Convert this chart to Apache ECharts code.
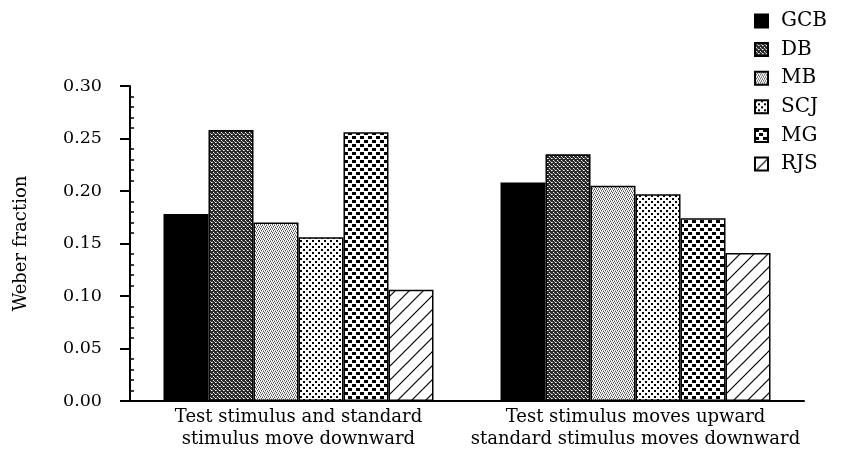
<!DOCTYPE html>
<html>
<head>
<meta charset="utf-8">
<script src="https://cdn.jsdelivr.net/npm/echarts@6/dist/echarts.min.js"></script>
<style>
  html, body { margin: 0; padding: 0; background: #fff; }
  #chart { width: 866px; height: 457px; }
</style>
</head>
<body>
<div id="chart"></div>
<script>
// data
const categories = [
  'Test stimulus and standard\nstimulus move downward',
  'Test stimulus moves upward\nstandard stimulus moves downward'
];
const subjects = ['GCB', 'DB', 'MB', 'SCJ', 'MG', 'RJS'];
const gcb = [0.178, 0.208];
const db  = [0.258, 0.235];
const mb  = [0.170, 0.205];
const scj = [0.156, 0.197];
const mg  = [0.256, 0.174];
const rjs = [0.106, 0.141];
const values = [gcb, db, mb, scj, mg, rjs];

const FONT = 'DejaVu Serif';

// little canvas tiles for the print-style fills
function tile(w, h, draw) {
  const c = document.createElement('canvas');
  c.width = w; c.height = h;
  const ctx = c.getContext('2d');
  ctx.fillStyle = '#fff';
  ctx.fillRect(0, 0, w, h);
  ctx.fillStyle = '#000';
  ctx.strokeStyle = '#000';
  draw(ctx);
  return { image: c, repeat: 'repeat' };
}

const fills = [
  '#000',
  // DB: dense dark stipple
  tile(4, 4, ctx => {
    ctx.fillStyle = '#2a2a2a';
    ctx.fillRect(0, 0, 4, 4);
    ctx.fillStyle = '#fff';
    ctx.fillRect(1, 0, 1, 1); ctx.fillRect(3, 2, 1, 1);
    ctx.fillStyle = '#aaa';
    ctx.fillRect(0, 2, 1, 1); ctx.fillRect(2, 1, 1, 1);
  }),
  // MB: lighter stipple
  tile(4, 4, ctx => {
    ctx.fillStyle = '#555';
    ctx.fillRect(0, 0, 1, 1); ctx.fillRect(2, 1, 1, 1);
    ctx.fillRect(1, 2, 1, 1); ctx.fillRect(3, 3, 1, 1);
    ctx.fillStyle = '#aaa';
    ctx.fillRect(2, 0, 1, 1); ctx.fillRect(0, 1, 1, 1);
    ctx.fillRect(3, 2, 1, 1); ctx.fillRect(1, 3, 1, 1);
  }),
  // SCJ: small dots on offset grid
  tile(6, 6, ctx => {
    ctx.fillRect(0, 0, 2, 2);
    ctx.fillRect(3, 3, 2, 2);
  }),
  // MG: bigger blocks on offset grid
  tile(8, 8, ctx => {
    ctx.fillRect(0, 0, 4, 3);
    ctx.fillRect(4, 4, 4, 3);
  }),
  // RJS: diagonal hatch
  tile(14, 14, ctx => {
    ctx.lineWidth = 1.2;
    ctx.beginPath();
    ctx.moveTo(-1, 15); ctx.lineTo(15, -1);
    ctx.moveTo(-8, 8); ctx.lineTo(8, -8);
    ctx.moveTo(6, 22); ctx.lineTo(22, 6);
    ctx.stroke();
  })
];

const grid = { left: 130, right: 62, top: 86, bottom: 56 };

const series = subjects.map((name, i) => ({
  name: name,
  type: 'bar',
  xAxisIndex: 0,
  yAxisIndex: 0,
  barWidth: 45,
  barGap: '0%',
  data: values[i],
  itemStyle: { color: fills[i], borderColor: '#000', borderWidth: 1.5 }
}));

const chart = echarts.init(document.getElementById('chart'), null, { renderer: 'canvas' });
chart.setOption({
  backgroundColor: '#fff',
  animation: false,
  textStyle: { fontFamily: FONT, color: '#000' },
  legend: {
    data: subjects,
    orient: 'vertical',
    left: 749,
    top: 5,
    icon: 'rect',
    itemWidth: 13,
    itemHeight: 13,
    itemGap: 6.6,
    textStyle: { fontFamily: FONT, fontSize: 20, lineHeight: 22, color: '#000', padding: [0, 0, 0, 8] }
  },
  grid: [
    Object.assign({}, grid),
    Object.assign({}, grid)
  ],
  xAxis: [
    {
      type: 'category',
      gridIndex: 0,
      data: categories,
      axisLine: { lineStyle: { color: '#000', width: 2 } },
      axisTick: { inside: true, length: 11, lineStyle: { color: '#000', width: 2 } },
      axisLabel: { interval: 0, fontFamily: FONT, fontSize: 18, color: '#000', lineHeight: 22, margin: 5 }
    },
    {
      type: 'category',
      gridIndex: 1,
      data: categories,
      axisLine: { show: false },
      axisTick: { length: 10, lineStyle: { color: '#000', width: 2 } },
      axisLabel: { show: false }
    }
  ],
  yAxis: [
    {
      type: 'value',
      gridIndex: 0,
      min: 0,
      max: 0.30,
      interval: 0.05,
      name: 'Weber fraction',
      nameLocation: 'middle',
      nameGap: 100,
      nameTextStyle: { fontFamily: FONT, fontSize: 18, color: '#000' },
      axisLine: { show: true, lineStyle: { color: '#000', width: 2 } },
      axisTick: { inside: true, length: 11, lineStyle: { color: '#000', width: 2 } },
      minorTick: { show: true, splitNumber: 5, length: 4, lineStyle: { color: '#000', width: 1.5 } },
      axisLabel: { fontFamily: FONT, fontSize: 17.5, color: '#000', margin: 28,
        formatter: v => v.toFixed(2) },
      splitLine: { show: false }
    },
    {
      type: 'value',
      gridIndex: 1,
      min: 0,
      max: 0.30,
      interval: 0.05,
      axisLine: { show: false },
      axisTick: { show: true, length: 10, lineStyle: { color: '#000', width: 2 } },
      axisLabel: { show: false },
      splitLine: { show: false }
    }
  ],
  series: series
});
</script>
</body>
</html>
